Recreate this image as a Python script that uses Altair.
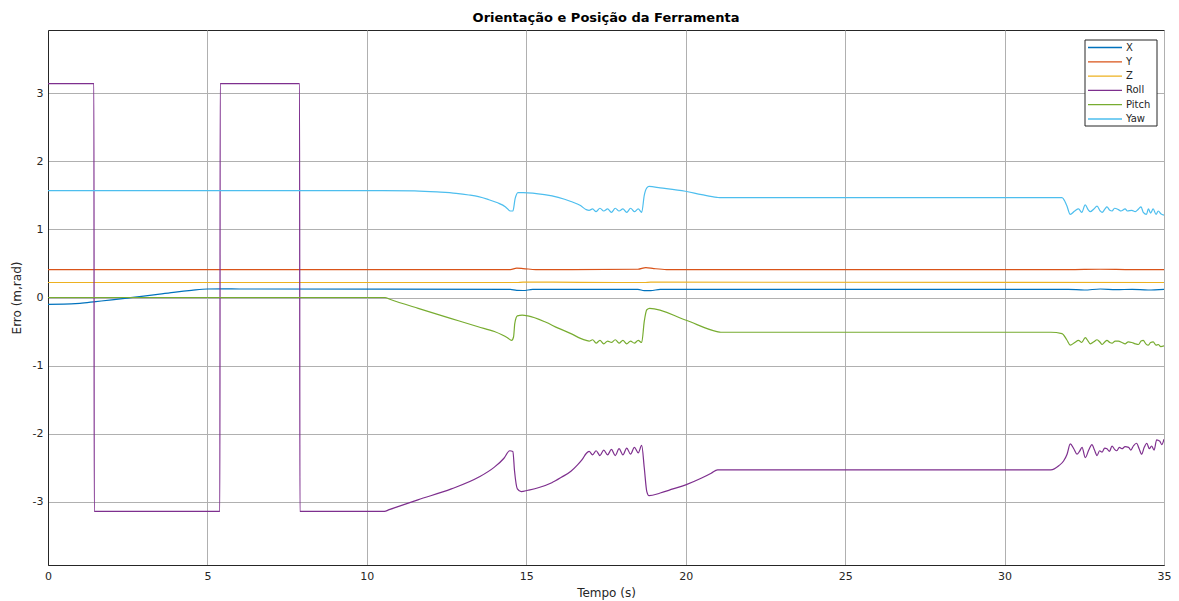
import altair as alt
import pandas as pd

series = ["X", "Y", "Z", "Roll", "Pitch", "Yaw"]
colors = ["#0072BD", "#D95319", "#EDB120", "#7E2F8E", "#77AC30", "#4DBEEE"]

x_t = [0, 0.5, 1.0, 1.5, 2.0, 2.5, 3.0, 3.5, 4.0, 4.5, 5.0, 5.5, 6.0, 14.5, 14.7, 14.9, 15.2, 18.5, 18.7, 18.9, 19.2, 32.0, 32.5, 33.0, 33.5, 34.0, 34.5, 35.0]
x_v = [-0.10, -0.098, -0.085, -0.06, -0.035, -0.008, 0.02, 0.05, 0.08, 0.105, 0.125, 0.128, 0.125, 0.12, 0.105, 0.103, 0.118, 0.12, 0.10, 0.10, 0.12, 0.12, 0.11, 0.125, 0.115, 0.12, 0.11, 0.12]

y_t = [0, 14.5, 14.7, 14.9, 15.3, 18.5, 18.75, 19.0, 19.4, 32.0, 33.0, 34.0, 35.0]
y_v = [0.41, 0.41, 0.43, 0.425, 0.41, 0.415, 0.44, 0.425, 0.41, 0.41, 0.415, 0.41, 0.41]

z_t = [0, 14.7, 14.9, 18.7, 18.9, 35.0]
z_v = [0.22, 0.22, 0.225, 0.22, 0.225, 0.22]

roll_t = [0, 1.44, 1.45, 5.39, 5.40, 7.89, 7.90, 10.55, 10.7, 11.6, 12.65, 13.5, 14.0, 14.3, 14.48, 14.58, 14.63, 14.72, 14.84,
          15.05, 15.4, 15.8, 16.1, 16.4, 16.6, 16.75, 16.88,
          16.97, 17.08, 17.19, 17.31, 17.43, 17.55, 17.67, 17.79, 17.91, 18.03, 18.15, 18.27, 18.39, 18.51, 18.62,
          18.7, 18.78, 18.85, 19.2, 19.6, 20.0, 20.5, 20.8, 21.0, 31.45, 31.7, 31.85, 31.96, 32.06,
          32.17, 32.27, 32.35, 32.43, 32.53, 32.64, 32.74, 32.82, 32.90, 32.98, 33.06, 33.14, 33.21, 33.29, 33.37, 33.45, 33.52,
          33.60, 33.68, 33.78, 33.89, 33.96, 34.04, 34.14, 34.22, 34.30, 34.38, 34.46, 34.54, 34.61, 34.69, 34.77, 34.87, 34.93, 35.0]
roll_v = [3.14, 3.14, -3.14, -3.14, 3.14, 3.14, -3.14, -3.14, -3.115, -2.97, -2.81, -2.64, -2.49, -2.36, -2.25, -2.26, -2.54, -2.81, -2.85,
          -2.83, -2.79, -2.72, -2.64, -2.55, -2.46, -2.38, -2.29,
          -2.26, -2.31, -2.25, -2.32, -2.24, -2.31, -2.23, -2.32, -2.22, -2.31, -2.21, -2.30, -2.20, -2.28, -2.17,
          -2.50, -2.85, -2.91, -2.87, -2.81, -2.75, -2.65, -2.58, -2.53, -2.53, -2.47, -2.40, -2.30, -2.15,
          -2.22, -2.30, -2.26, -2.20, -2.35, -2.24, -2.16, -2.24, -2.32, -2.25, -2.27, -2.21, -2.22, -2.26, -2.18, -2.23, -2.25,
          -2.20, -2.22, -2.19, -2.20, -2.24, -2.18, -2.14, -2.22, -2.30, -2.20, -2.14, -2.22, -2.18, -2.24, -2.09, -2.11, -2.16, -2.08]

pitch_t = [0, 10.57, 10.72, 11.61, 12.65, 13.49, 14.0, 14.41, 14.54, 14.6, 14.64, 14.72, 14.87, 15.05, 15.6, 16.0, 16.4, 16.7, 16.88,
           16.97, 17.08, 17.19, 17.31, 17.43, 17.55, 17.67, 17.79, 17.91, 18.03, 18.15, 18.27, 18.39, 18.51, 18.62,
           18.7, 18.78, 18.87, 19.99, 20.98, 21.1, 31.45, 31.8, 31.95, 32.06,
           32.2, 32.32, 32.42, 32.53, 32.62, 32.69, 32.8, 32.9, 33.0, 33.06, 33.15, 33.21, 33.3, 33.37, 33.47, 33.57, 33.68, 33.78,
           33.88, 33.99, 34.1, 34.2, 34.28, 34.35, 34.43, 34.51, 34.58, 34.66, 34.75, 34.82, 34.9, 35.0]
pitch_v = [0.0, 0.0, -0.025, -0.16, -0.31, -0.43, -0.50, -0.59, -0.63, -0.58, -0.38, -0.27, -0.26, -0.27, -0.36, -0.45, -0.53, -0.60, -0.63,
           -0.64, -0.62, -0.67, -0.63, -0.68, -0.64, -0.66, -0.62, -0.67, -0.63, -0.68, -0.64, -0.67, -0.63, -0.66,
           -0.35, -0.18, -0.16, -0.33, -0.50, -0.51, -0.51, -0.53, -0.62, -0.70,
           -0.66, -0.63, -0.66, -0.59, -0.64, -0.68, -0.65, -0.62, -0.66, -0.69, -0.65, -0.63, -0.66, -0.67, -0.64, -0.64, -0.66, -0.68,
           -0.65, -0.66, -0.68, -0.69, -0.64, -0.63, -0.68, -0.70, -0.66, -0.65, -0.70, -0.69, -0.72, -0.71]

yaw_t = [0, 10.5, 11.5, 12.2, 12.8, 13.2, 13.5, 13.8, 14.1, 14.35, 14.5, 14.58, 14.65, 14.74, 14.9, 15.57, 16.0, 16.4, 16.7, 16.88,
         16.97, 17.08, 17.19, 17.31, 17.43, 17.55, 17.67, 17.79, 17.91, 18.03, 18.15, 18.27, 18.39, 18.51, 18.62,
         18.7, 18.78, 18.85, 19.2, 19.99, 20.5, 20.98, 21.1, 31.45, 31.8, 31.95, 32.06,
         32.2, 32.32, 32.42, 32.53, 32.62, 32.69, 32.8, 32.9, 33.0, 33.06, 33.15, 33.21, 33.3, 33.37, 33.45, 33.57, 33.65, 33.78,
         33.85, 33.99, 34.1, 34.2, 34.28, 34.35, 34.45, 34.51, 34.58, 34.66, 34.75, 34.82, 34.9, 35.0]
yaw_v = [1.57, 1.57, 1.565, 1.55, 1.53, 1.505, 1.48, 1.44, 1.39, 1.33, 1.27, 1.27, 1.45, 1.54, 1.54, 1.51, 1.47, 1.41, 1.35, 1.29,
         1.28, 1.30, 1.26, 1.31, 1.27, 1.30, 1.25, 1.31, 1.27, 1.30, 1.25, 1.31, 1.26, 1.30, 1.25,
         1.50, 1.61, 1.63, 1.61, 1.56, 1.51, 1.47, 1.465, 1.465, 1.465, 1.35, 1.22,
         1.27, 1.30, 1.25, 1.36, 1.29, 1.26, 1.30, 1.34, 1.27, 1.25, 1.30, 1.33, 1.28, 1.27, 1.31, 1.29, 1.27, 1.30,
         1.27, 1.28, 1.26, 1.30, 1.33, 1.25, 1.22, 1.30, 1.24, 1.30, 1.22, 1.27, 1.23, 1.21]

frames = []
for name, t, v in [("X", x_t, x_v), ("Y", y_t, y_v), ("Z", z_t, z_v),
                   ("Roll", roll_t, roll_v), ("Pitch", pitch_t, pitch_v), ("Yaw", yaw_t, yaw_v)]:
    frames.append(pd.DataFrame({"t": t, "v": v, "s": name, "k": list(range(len(t)))}))
df = pd.concat(frames, ignore_index=True)

x_ticks = [0, 5, 10, 15, 20, 25, 30, 35]
y_ticks = [-3, -2, -1, 0, 1, 2, 3]
font = "DejaVu Sans"
color_scale = alt.Scale(domain=series, range=colors)

lines = alt.Chart(df).mark_line(strokeWidth=1.2, clip=True, interpolate="monotone").encode(
    x=alt.X("t:Q", scale=alt.Scale(domain=[0, 35], nice=False, zero=False),
            axis=alt.Axis(values=x_ticks, title="Tempo (s)", labelExpr="'' + datum.value", labelFlush=False)),
    y=alt.Y("v:Q", scale=alt.Scale(domain=[-3.927, 3.927], nice=False, zero=False),
            axis=alt.Axis(values=y_ticks, title="Erro (m,rad)", labelExpr="'' + datum.value", labelFlush=False)),
    color=alt.Color("s:N", sort=series, scale=color_scale, legend=None),
    order=alt.Order("k:Q"),
)

# custom legend (box, line samples, labels) laid out by series index
legend_df = pd.DataFrame({"s": series, "i": list(range(len(series)))})
box = alt.Chart(pd.DataFrame({"a": [0]})).mark_rect(fill="white", stroke="#262626", strokeWidth=1).encode(
    x=alt.value(1037), x2=alt.value(1109), y=alt.value(10), y2=alt.value(96)
)
leg_base = alt.Chart(legend_df).transform_calculate(ly="17.5 + datum.i * 14.3")
leg_lines = leg_base.mark_rule(strokeWidth=1.3).encode(
    x=alt.value(1040), x2=alt.value(1074),
    y=alt.Y("ly:Q", scale=None, axis=None),
    color=alt.Color("s:N", sort=series, scale=color_scale, legend=None),
)
leg_text = leg_base.mark_text(align="left", baseline="middle", fontSize=10, font=font, color="#262626").encode(
    x=alt.value(1078),
    y=alt.Y("ly:Q", scale=None, axis=None),
    text="s:N",
)

chart = alt.layer(lines, box, leg_lines, leg_text).properties(
    width=1116, height=535,
    title=alt.Title("Orientação e Posição da Ferramenta", font=font, fontSize=13, fontWeight="bold",
                    color="#000000", anchor="middle", offset=5),
    autosize=alt.AutoSizeParams(type="none"),
    padding={"left": 40, "top": 22, "right": 7, "bottom": 36},
).configure_axis(
    labelFont=font, titleFont=font, labelFontSize=11, titleFontSize=12, titleFontWeight="normal",
    labelColor="#262626", titleColor="#262626", domainColor="#262626", domainWidth=1,
    gridColor="#b0b0b0", gridWidth=1, ticks=False, labelPadding=5,
).configure_axisY(titlePadding=9).configure_axisX(titlePadding=6).configure_view(
    stroke="#262626", strokeWidth=1
)

chart.save("out.html", embed_options={"renderer": "svg", "actions": False})
